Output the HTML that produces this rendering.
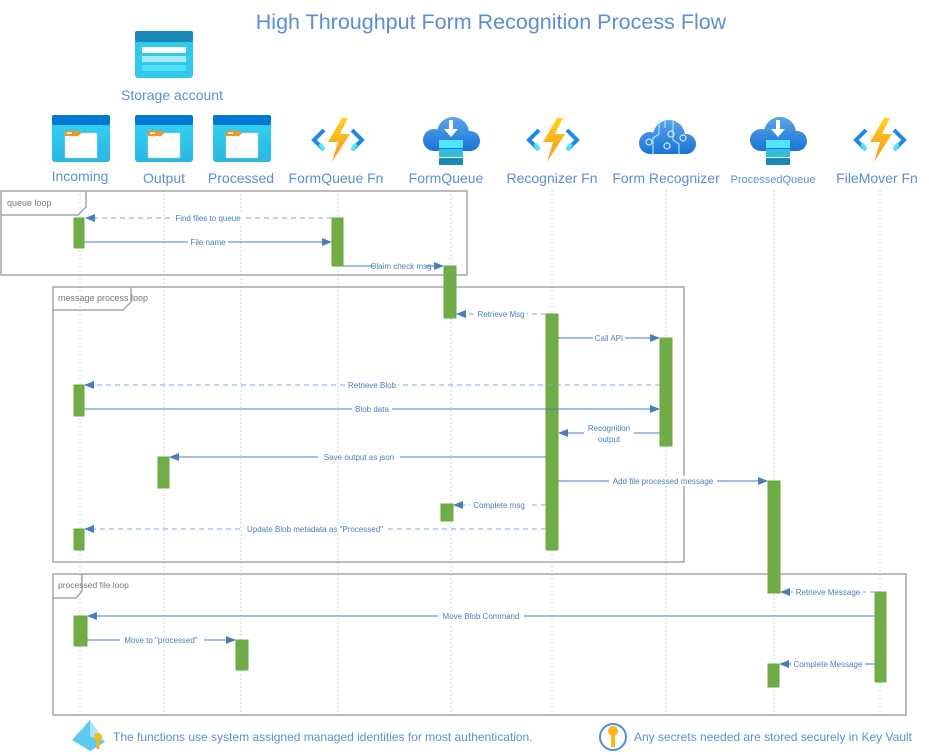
<!DOCTYPE html>
<html><head><meta charset="utf-8"><style>
html,body{margin:0;padding:0;background:#fff;}
svg{display:block;}
text{font-family:"Liberation Sans",sans-serif;}
.lbl{fill:#5b8fd0;font-size:14px;text-anchor:middle;}
.msg{fill:#4a7ebb;font-size:8px;text-anchor:middle;}
.life{stroke:#c5d9ef;stroke-width:1;stroke-dasharray:2,2;}
.act{fill:#70ad47;stroke:#6aa83f;}
.ln{stroke:#4a7ebb;stroke-width:1;fill:none;}
.dl{stroke:#7ea6d6;stroke-width:1;stroke-dasharray:5,4;fill:none;}
.frame{fill:none;stroke:#a6a6a6;stroke-width:1.5;}
.ft{fill:#777;font-size:9px;}
</style></head><body>
<svg width="929" height="755" viewBox="0 0 929 755" xmlns="http://www.w3.org/2000/svg">
<defs>
<marker id="ar" markerWidth="10" markerHeight="8" refX="9" refY="4" orient="auto" markerUnits="userSpaceOnUse">
<path d="M0,0 L10,4 L0,8 z" fill="#4a7ebb"/></marker>
<linearGradient id="cg" gradientUnits="userSpaceOnUse" x1="0" y1="-22" x2="0" y2="14"><stop offset="0" stop-color="#5ea7ea"/><stop offset="1" stop-color="#1a73d6"/></linearGradient>
<linearGradient id="bg" x1="0" y1="0" x2="0" y2="1"><stop offset="0" stop-color="#32d4f5"/><stop offset="1" stop-color="#2bb6e0"/></linearGradient>
<linearGradient id="zg" x1="0" y1="0" x2="0" y2="1"><stop offset="0" stop-color="#fed11e"/><stop offset="1" stop-color="#f7941d"/></linearGradient>
<g id="cont">
<rect x="0" y="0" width="58" height="47" rx="3" fill="url(#bg)"/>
<rect x="0" y="0" width="58" height="10" rx="2" fill="#0078d4"/>
<rect x="13" y="18" width="32" height="25" fill="#fff" stroke="#ccc" stroke-width="0.5"/>
<path d="M13,16 h13 l3,2.5 l-3,2.5 h-13z" fill="#f7941d"/>
<rect x="15" y="17.5" width="5" height="1.5" fill="#fff"/>
</g>
<g id="fn">
<path d="M-14,-10 L-24,0 L-14,10" stroke="#1e88e5" stroke-width="4" fill="none"/>
<path d="M14,-10 L24,0 L14,10" stroke="#1e88e5" stroke-width="4" fill="none"/>
<path d="M-18,4 L-14,10" stroke="#50e6ff" stroke-width="4"/>
<path d="M18,4 L14,10" stroke="#50e6ff" stroke-width="4"/>
<path d="M4,-22 L-10,2 L0,2 L-6,22 L12,-6 L2,-6 L10,-22 z" fill="url(#zg)"/>
</g>
<g id="cloud" fill="url(#cg)">
<circle cx="2" cy="-4" r="16"/>
<circle cx="-17" cy="3" r="11"/>
<circle cx="19" cy="4" r="10"/>
<rect x="-17" y="2" width="36" height="12"/>
</g>
<g id="queue">
<use href="#cloud"/>
<rect x="-12" y="3" width="24" height="8" fill="#50e6ff"/>
<rect x="-12" y="12" width="24" height="8" fill="#32bedd"/>
<rect x="-12" y="21" width="24" height="7" fill="#198ab3"/>
<path d="M-2,-17 h4 v9 h5 l-7,8 l-7,-8 h5z" fill="#fff"/>
</g>
</defs>

<text x="491" y="29" fill="#5b8fd0" font-size="21.5" text-anchor="middle">High Throughput Form Recognition Process Flow</text>

<rect x="135" y="31" width="58" height="47" rx="3" fill="#32c8ec"/>
<rect x="135" y="31" width="58" height="11" rx="2" fill="#1b8ab9"/>
<rect x="142" y="47" width="44" height="6" fill="#fff"/>
<rect x="142" y="56" width="44" height="6" fill="#a6eaf8"/>
<rect x="142" y="65" width="44" height="6" fill="#50e0fa"/>
<text x="172" y="100" class="lbl">Storage account</text>

<use href="#cont" x="52" y="115"/>
<use href="#cont" x="135" y="115"/>
<use href="#cont" x="213" y="115"/>
<use href="#fn" x="338" y="140"/>
<use href="#queue" x="451" y="137"/>
<use href="#fn" x="553" y="140"/>
<g transform="translate(667,140)"><use href="#cloud"/>
<path d="M-8,-20 v14 l-6,4 v16 M-2,-20 v8 M6,-20 v20 l6,4 v10" stroke="#a6e4f8" stroke-width="1.2" fill="none"/>
<circle cx="-18" cy="2" r="3" fill="none" stroke="#c8f0ff" stroke-width="1.2"/>
<circle cx="0" cy="6" r="3" fill="none" stroke="#c8f0ff" stroke-width="1.2"/>
<circle cx="4" cy="-6" r="3" fill="none" stroke="#c8f0ff" stroke-width="1.2"/>
<circle cx="16" cy="-2" r="3" fill="none" stroke="#c8f0ff" stroke-width="1.2"/></g>
<use href="#queue" x="778" y="137"/>
<use href="#fn" x="880" y="140"/>

<text x="80" y="181" class="lbl">Incoming</text>
<text x="164" y="183" class="lbl">Output</text>
<text x="241" y="183" class="lbl">Processed</text>
<text x="336" y="183" class="lbl">FormQueue Fn</text>
<text x="446" y="183" class="lbl">FormQueue</text>
<text x="552" y="183" class="lbl">Recognizer Fn</text>
<text x="666" y="183" class="lbl">Form Recognizer</text>
<text x="773" y="183" class="lbl" style="font-size:11px">ProcessedQueue</text>
<text x="877" y="183" class="lbl">FileMover Fn</text>

<g class="life">
<line x1="80" y1="190" x2="80" y2="718"/><line x1="164" y1="190" x2="164" y2="718"/>
<line x1="241" y1="190" x2="241" y2="718"/><line x1="338" y1="190" x2="338" y2="718"/>
<line x1="451" y1="190" x2="451" y2="718"/><line x1="552" y1="190" x2="552" y2="718"/>
<line x1="666" y1="190" x2="666" y2="718"/><line x1="774" y1="190" x2="774" y2="718"/>
<line x1="880" y1="190" x2="880" y2="718"/>
</g>

<rect x="1" y="191" width="466" height="84" class="frame"/>
<path d="M1,215 H78 L86,207 V191" class="frame"/>
<text x="7" y="206" class="ft">queue loop</text>
<rect x="53" y="287" width="631" height="275" class="frame"/>
<path d="M53,310 H123 L131,302 V287" class="frame"/>
<text x="58" y="301" class="ft">message process loop</text>
<rect x="53" y="574" width="853" height="141" class="frame"/>
<path d="M53,598 H76 L82,591 V574" class="frame"/>
<text x="58" y="588" class="ft" style="font-size:8.5px">processed file loop</text>

<rect class="act" x="74" y="218" width="10" height="30"/>
<rect class="act" x="332" y="218" width="11" height="48"/>
<rect class="act" x="444" y="266" width="12" height="52"/>
<rect class="act" x="546" y="314" width="12" height="236"/>
<rect class="act" x="660" y="338" width="12" height="108"/>
<rect class="act" x="74" y="385" width="10" height="31"/>
<rect class="act" x="158" y="457" width="11" height="31"/>
<rect class="act" x="441" y="504" width="12" height="17"/>
<rect class="act" x="74" y="529" width="10" height="21"/>
<rect class="act" x="768" y="481" width="12" height="112"/>
<rect class="act" x="875" y="592" width="11" height="90"/>
<rect class="act" x="74" y="616" width="13" height="30"/>
<rect class="act" x="236" y="640" width="12" height="30"/>
<rect class="act" x="768" y="664" width="11" height="23"/>

<g>
<line class="dl" x1="332" y1="218" x2="86" y2="218" marker-end="url(#ar)"/>
<line class="ln" x1="84" y1="242" x2="331" y2="242" marker-end="url(#ar)"/>
<line class="ln" x1="343" y1="266" x2="443" y2="266" marker-end="url(#ar)"/>
<line class="dl" x1="546" y1="314" x2="457" y2="314" marker-end="url(#ar)"/>
<line class="ln" x1="558" y1="338" x2="659" y2="338" marker-end="url(#ar)"/>
<line class="dl" x1="660" y1="385" x2="85" y2="385" marker-end="url(#ar)"/>
<line class="ln" x1="84" y1="409" x2="659" y2="409" marker-end="url(#ar)"/>
<line class="ln" x1="660" y1="433" x2="559" y2="433" marker-end="url(#ar)"/>
<line class="ln" x1="546" y1="457" x2="170" y2="457" marker-end="url(#ar)"/>
<line class="ln" x1="558" y1="481" x2="767" y2="481" marker-end="url(#ar)"/>
<line class="dl" x1="546" y1="505" x2="454" y2="505" marker-end="url(#ar)"/>
<line class="dl" x1="546" y1="529" x2="85" y2="529" marker-end="url(#ar)"/>
<line class="dl" x1="875" y1="592" x2="781" y2="592" marker-end="url(#ar)"/>
<line class="ln" x1="875" y1="616" x2="88" y2="616" marker-end="url(#ar)"/>
<line class="ln" x1="87" y1="640" x2="235" y2="640" marker-end="url(#ar)"/>
<line class="ln" x1="875" y1="664" x2="780" y2="664" marker-end="url(#ar)"/>
</g>
<g>
<rect x="172" y="213" width="72" height="10" fill="#fff"/><text x="208" y="221" class="msg">Find files to queue</text>
<rect x="188" y="237" width="40" height="10" fill="#fff"/><text x="208" y="245" class="msg">File name</text>
<rect x="376" y="261" width="50" height="10" fill="#fff"/><text x="401" y="269" class="msg">Claim check msg</text>
<rect x="475" y="309" width="52" height="10" fill="#fff"/><text x="501" y="317" class="msg">Retrieve Msg</text>
<rect x="593" y="333" width="32" height="10" fill="#fff"/><text x="609" y="341" class="msg">Call API</text>
<rect x="346" y="380" width="52" height="10" fill="#fff"/><text x="372" y="388" class="msg">Retrieve Blob</text>
<rect x="352" y="404" width="40" height="10" fill="#fff"/><text x="372" y="412" class="msg">Blob data</text>
<rect x="584" y="421" width="50" height="22" fill="#fff"/><text x="609" y="431" class="msg">Recognition</text><text x="609" y="442" class="msg">output</text>
<rect x="318" y="452" width="82" height="10" fill="#fff"/><text x="359" y="460" class="msg">Save output as json</text>
<rect x="609" y="476" width="108" height="10" fill="#fff"/><text x="663" y="484" class="msg">Add file processed message</text>
<rect x="470" y="500" width="58" height="10" fill="#fff"/><text x="499" y="508" class="msg">Complete msg</text>
<rect x="242" y="524" width="146" height="10" fill="#fff"/><text x="315" y="532" class="msg">Update Blob metadata as "Processed"</text>
<rect x="793" y="587" width="70" height="10" fill="#fff"/><text x="828" y="595" class="msg">Retrieve Message</text>
<rect x="438" y="611" width="86" height="10" fill="#fff"/><text x="481" y="619" class="msg">Move Blob Command</text>
<rect x="120" y="635" width="84" height="10" fill="#fff"/><text x="161" y="643" class="msg">Move to "processed"</text>
<rect x="791" y="659" width="74" height="10" fill="#fff"/><text x="828" y="667" class="msg">Complete Message</text>
</g>

<path d="M90,720 L105,742 L90,751 L72,740 z" fill="#5ccbf0"/>
<path d="M90,720 L105,742 L90,736 z" fill="#a7e6fb"/>
<circle cx="98" cy="737" r="4" fill="#f8b912"/><rect x="96.5" y="739" width="3" height="10" fill="#f8b912"/>
<text x="113" y="741" fill="#5b8fd0" font-size="12">The functions use system assigned managed identities for most authentication.</text>
<circle cx="613" cy="737" r="13" fill="#fff" stroke="#4a90e2" stroke-width="2"/>
<circle cx="613" cy="731" r="5" fill="#f8b912"/><rect x="611" y="734" width="4" height="13" fill="#f8b912"/>
<text x="634" y="741" fill="#5b8fd0" font-size="12">Any secrets needed are stored securely in Key Vault</text>
</svg>
</body></html>
